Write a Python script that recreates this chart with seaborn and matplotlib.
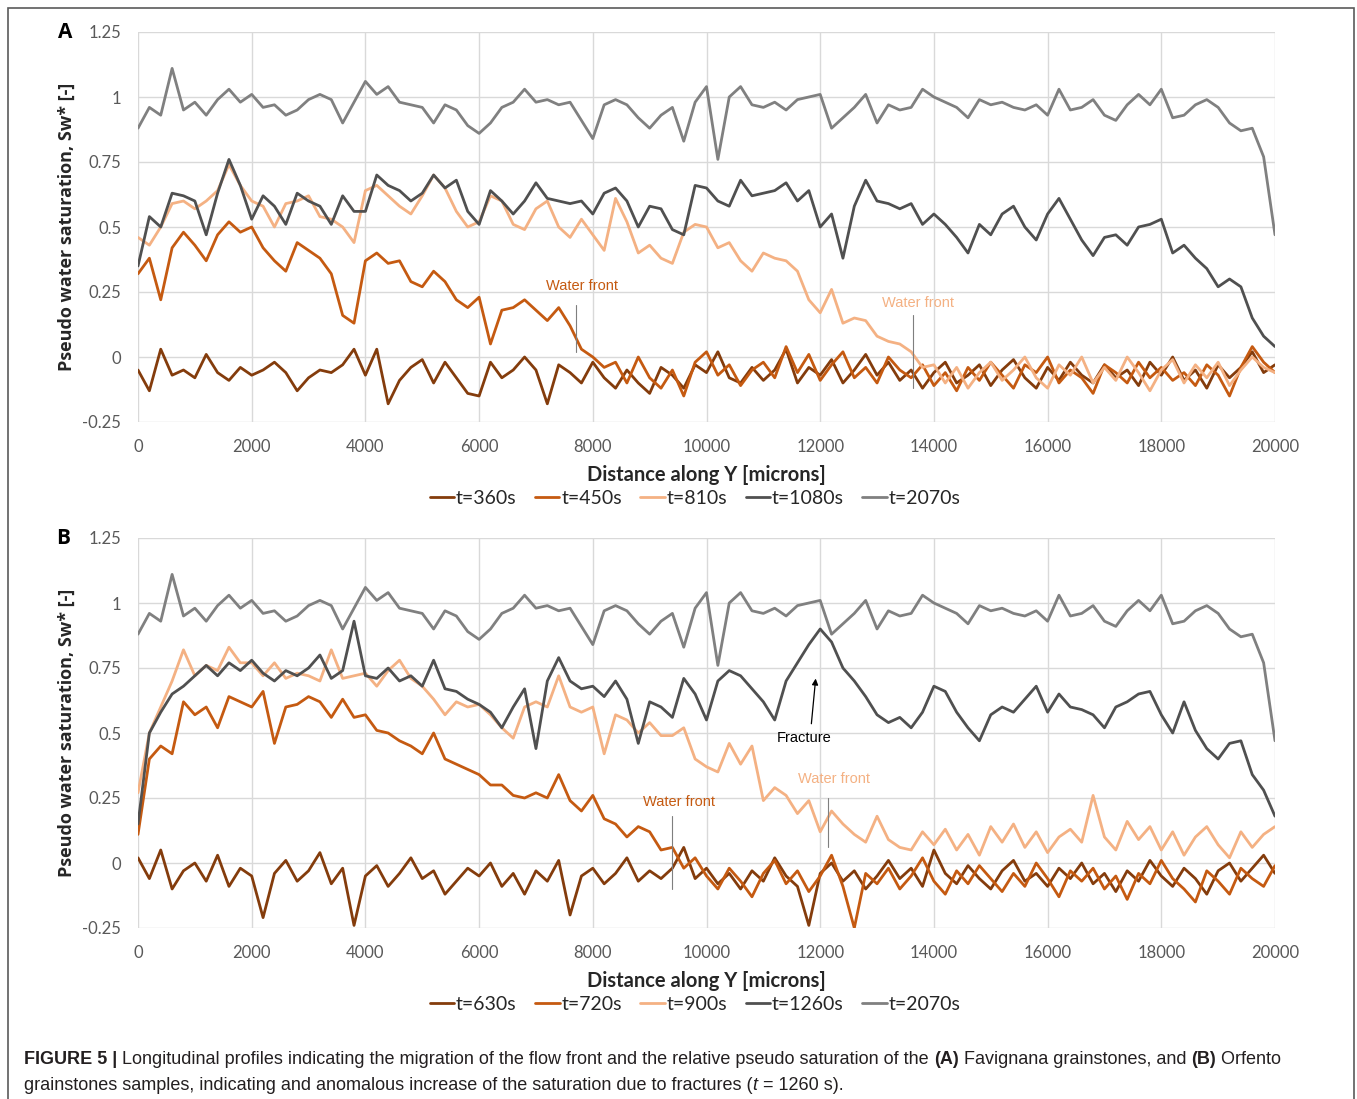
import matplotlib
matplotlib.use("Agg")
import matplotlib.pyplot as plt
import numpy as np
import pandas as pd
import seaborn as sns
from matplotlib.lines import Line2D
from matplotlib.patches import Rectangle

# ---------------- data ----------------
distance = list(range(0, 20001, 200))   # microns, sampling grid of the profiles

x_ticks = [0, 2000, 4000, 6000, 8000, 10000, 12000, 14000, 16000, 18000, 20000]
y_ticks = [-0.25, 0, 0.25, 0.5, 0.75, 1, 1.25]
y_tick_labels = ["-0.25", "0", "0.25", "0.5", "0.75", "1", "1.25"]

labels_a = ["t=360s", "t=450s", "t=810s", "t=1080s", "t=2070s"]
labels_b = ["t=630s", "t=720s", "t=900s", "t=1260s", "t=2070s"]

# shared final profile (t=2070s) in both panels
sw_2070 = [0.88, 0.96, 0.93, 1.11, 0.95, 0.98, 0.93, 0.99, 1.03, 0.98,
           1.01, 0.96, 0.97, 0.93, 0.95, 0.99, 1.01, 0.99, 0.90, 0.98,
           1.06, 1.01, 1.04, 0.98, 0.97, 0.96, 0.90, 0.97, 0.95, 0.89,
           0.86, 0.90, 0.96, 0.98, 1.03, 0.98, 0.99, 0.97, 0.98, 0.91,
           0.84, 0.97, 0.99, 0.97, 0.92, 0.88, 0.93, 0.96, 0.83, 0.98,
           1.04, 0.76, 1.00, 1.04, 0.97, 0.96, 0.98, 0.95, 0.99, 1.00,
           1.01, 0.88, 0.92, 0.96, 1.01, 0.90, 0.97, 0.95, 0.96, 1.03,
           1.00, 0.98, 0.96, 0.92, 0.99, 0.97, 0.98, 0.96, 0.95, 0.97,
           0.93, 1.03, 0.95, 0.96, 0.99, 0.93, 0.91, 0.97, 1.01, 0.97,
           1.03, 0.92, 0.93, 0.97, 0.99, 0.96, 0.90, 0.87, 0.88, 0.77,
           0.47]

# Panel A (Favignana)
sw_a_360 = [-0.05, -0.13, 0.03, -0.07, -0.05, -0.08, 0.01, -0.06, -0.09, -0.04,
            -0.07, -0.05, -0.02, -0.06, -0.13, -0.08, -0.05, -0.06, -0.03, 0.03,
            -0.07, 0.03, -0.18, -0.09, -0.04, -0.01, -0.10, -0.02, -0.08, -0.14,
            -0.15, -0.02, -0.08, -0.05, 0.00, -0.05, -0.18, -0.03, -0.06, -0.10,
            -0.02, -0.08, -0.12, -0.05, -0.10, -0.14, -0.04, -0.07, -0.12, -0.03,
            -0.06, 0.02, -0.08, -0.10, -0.04, -0.09, -0.05, 0.03, -0.10, -0.04,
            -0.07, -0.01, -0.10, -0.05, 0.01, -0.07, -0.02, -0.09, -0.05, -0.12,
            -0.06, -0.02, -0.10, -0.07, -0.03, -0.11, -0.05, -0.01, -0.08, -0.12,
            -0.04, -0.09, -0.02, -0.07, -0.10, -0.03, -0.08, -0.05, -0.11, -0.02,
            -0.07, 0.00, -0.09, -0.05, -0.12, -0.03, -0.08, -0.04, 0.02, -0.06,
            -0.03]
sw_a_450 = [0.32, 0.38, 0.22, 0.42, 0.48, 0.43, 0.37, 0.47, 0.52, 0.48,
            0.50, 0.42, 0.37, 0.33, 0.44, 0.41, 0.38, 0.32, 0.16, 0.13,
            0.37, 0.40, 0.36, 0.37, 0.29, 0.27, 0.33, 0.29, 0.22, 0.19,
            0.23, 0.05, 0.18, 0.19, 0.22, 0.18, 0.14, 0.19, 0.12, 0.03,
            0.00, -0.04, -0.02, -0.10, 0.00, -0.08, -0.12, -0.05, -0.15, -0.02,
            0.02, -0.07, -0.03, -0.11, -0.05, -0.02, -0.08, 0.04, -0.06, 0.01,
            -0.09, -0.03, 0.02, -0.08, -0.04, -0.10, 0.00, -0.05, -0.08, -0.03,
            -0.11, -0.06, -0.13, -0.04, -0.09, -0.02, -0.07, -0.12, -0.03, -0.06,
            0.00, -0.10, -0.05, -0.08, -0.14, -0.03, -0.06, -0.10, -0.02, -0.08,
            -0.04, -0.09, -0.06, -0.11, -0.03, -0.07, -0.15, -0.04, 0.04, -0.02,
            -0.06]
sw_a_810 = [0.46, 0.43, 0.50, 0.59, 0.60, 0.57, 0.60, 0.64, 0.74, 0.66,
            0.60, 0.58, 0.50, 0.59, 0.60, 0.62, 0.54, 0.53, 0.50, 0.44,
            0.64, 0.66, 0.62, 0.58, 0.55, 0.62, 0.70, 0.65, 0.56, 0.50,
            0.52, 0.62, 0.60, 0.51, 0.49, 0.57, 0.60, 0.50, 0.46, 0.53,
            0.47, 0.41, 0.61, 0.52, 0.40, 0.43, 0.38, 0.36, 0.48, 0.51,
            0.50, 0.42, 0.44, 0.37, 0.33, 0.40, 0.38, 0.37, 0.33, 0.22,
            0.17, 0.26, 0.13, 0.15, 0.14, 0.08, 0.06, 0.05, 0.02, -0.04,
            -0.03, -0.10, -0.04, -0.12, -0.06, -0.02, -0.09, -0.05, 0.00, -0.08,
            -0.12, -0.03, -0.07, 0.00, -0.10, -0.04, -0.09, 0.00, -0.06, -0.13,
            -0.05, -0.01, -0.10, -0.03, -0.08, -0.02, -0.11, -0.05, 0.00, -0.04,
            -0.06]
sw_a_1080 = [0.35, 0.54, 0.50, 0.63, 0.62, 0.60, 0.47, 0.63, 0.76, 0.66,
             0.53, 0.62, 0.58, 0.51, 0.63, 0.60, 0.58, 0.51, 0.62, 0.56,
             0.56, 0.70, 0.66, 0.64, 0.60, 0.63, 0.70, 0.65, 0.68, 0.56,
             0.51, 0.64, 0.60, 0.55, 0.60, 0.67, 0.61, 0.60, 0.59, 0.60,
             0.55, 0.63, 0.65, 0.60, 0.50, 0.58, 0.57, 0.49, 0.47, 0.66,
             0.65, 0.60, 0.58, 0.68, 0.62, 0.63, 0.64, 0.67, 0.60, 0.64,
             0.50, 0.55, 0.38, 0.58, 0.68, 0.60, 0.59, 0.57, 0.59, 0.51,
             0.55, 0.51, 0.46, 0.40, 0.51, 0.47, 0.55, 0.58, 0.50, 0.45,
             0.55, 0.61, 0.53, 0.45, 0.39, 0.46, 0.47, 0.43, 0.50, 0.51,
             0.53, 0.40, 0.43, 0.38, 0.34, 0.27, 0.30, 0.27, 0.15, 0.08,
             0.04]

# Panel B (Orfento)
sw_b_630 = [0.02, -0.06, 0.05, -0.10, -0.03, 0.00, -0.07, 0.03, -0.09, -0.02,
            -0.05, -0.21, -0.04, 0.01, -0.07, -0.03, 0.04, -0.08, -0.02, -0.24,
            -0.05, -0.01, -0.09, -0.04, 0.02, -0.06, -0.03, -0.12, -0.07, -0.02,
            -0.05, 0.00, -0.09, -0.04, -0.12, -0.03, -0.07, 0.01, -0.20, -0.05,
            -0.02, -0.08, -0.04, 0.02, -0.07, -0.03, -0.06, -0.02, 0.06, -0.06,
            -0.02, -0.08, -0.04, -0.10, -0.03, -0.07, 0.02, -0.05, -0.09, -0.24,
            -0.04, 0.00, -0.07, -0.03, -0.10, -0.05, 0.01, -0.06, -0.02, -0.09,
            0.05, -0.04, -0.08, -0.01, -0.06, -0.10, -0.03, 0.01, -0.07, -0.04,
            -0.09, -0.02, -0.06, 0.00, -0.08, -0.04, -0.11, -0.03, -0.07, 0.01,
            -0.05, -0.09, -0.02, -0.06, -0.12, -0.03, 0.00, -0.07, -0.02, 0.03,
            -0.04]
sw_b_720 = [0.11, 0.40, 0.45, 0.42, 0.62, 0.57, 0.60, 0.52, 0.64, 0.62,
            0.60, 0.66, 0.46, 0.60, 0.61, 0.64, 0.62, 0.56, 0.63, 0.56,
            0.57, 0.51, 0.50, 0.47, 0.45, 0.42, 0.50, 0.40, 0.38, 0.36,
            0.34, 0.30, 0.30, 0.26, 0.25, 0.27, 0.25, 0.34, 0.24, 0.20,
            0.26, 0.17, 0.15, 0.10, 0.14, 0.12, 0.05, 0.06, -0.02, 0.02,
            -0.05, -0.10, -0.02, -0.07, -0.13, -0.04, 0.01, -0.08, -0.03, -0.11,
            -0.05, 0.03, -0.09, -0.25, -0.04, -0.08, -0.02, -0.10, -0.05, 0.02,
            -0.07, -0.12, -0.03, -0.08, -0.01, -0.06, -0.11, -0.04, -0.09, 0.00,
            -0.06, -0.13, -0.03, -0.07, -0.02, -0.10, -0.05, -0.14, -0.04, -0.08,
            0.01, -0.06, -0.10, -0.15, -0.03, -0.07, -0.12, -0.02, -0.06, -0.09,
            -0.01]
sw_b_900 = [0.27, 0.50, 0.60, 0.70, 0.82, 0.72, 0.76, 0.74, 0.83, 0.77,
            0.77, 0.72, 0.77, 0.71, 0.73, 0.72, 0.70, 0.82, 0.71, 0.72,
            0.73, 0.68, 0.74, 0.78, 0.71, 0.68, 0.63, 0.57, 0.62, 0.60,
            0.61, 0.57, 0.52, 0.48, 0.60, 0.62, 0.60, 0.72, 0.60, 0.58,
            0.60, 0.42, 0.57, 0.55, 0.50, 0.54, 0.49, 0.49, 0.52, 0.40,
            0.37, 0.35, 0.46, 0.38, 0.45, 0.24, 0.29, 0.26, 0.19, 0.24,
            0.12, 0.20, 0.15, 0.11, 0.08, 0.18, 0.09, 0.06, 0.05, 0.12,
            0.07, 0.13, 0.05, 0.11, 0.03, 0.14, 0.08, 0.15, 0.06, 0.12,
            0.04, 0.10, 0.13, 0.08, 0.26, 0.10, 0.05, 0.16, 0.09, 0.14,
            0.05, 0.12, 0.03, 0.10, 0.14, 0.07, 0.02, 0.12, 0.06, 0.11,
            0.14]
sw_b_1260 = [0.15, 0.50, 0.58, 0.65, 0.68, 0.72, 0.76, 0.72, 0.77, 0.74,
             0.78, 0.73, 0.70, 0.74, 0.72, 0.75, 0.80, 0.71, 0.74, 0.93,
             0.72, 0.71, 0.75, 0.70, 0.72, 0.68, 0.78, 0.67, 0.66, 0.63,
             0.61, 0.58, 0.52, 0.60, 0.67, 0.44, 0.70, 0.79, 0.70, 0.67,
             0.68, 0.64, 0.70, 0.63, 0.46, 0.62, 0.60, 0.56, 0.71, 0.65,
             0.55, 0.70, 0.74, 0.72, 0.67, 0.62, 0.55, 0.70, 0.77, 0.84,
             0.90, 0.85, 0.75, 0.70, 0.64, 0.57, 0.54, 0.56, 0.52, 0.58,
             0.68, 0.66, 0.58, 0.52, 0.47, 0.57, 0.60, 0.58, 0.63, 0.68,
             0.58, 0.65, 0.60, 0.59, 0.57, 0.52, 0.60, 0.62, 0.65, 0.66,
             0.57, 0.50, 0.62, 0.51, 0.44, 0.40, 0.46, 0.47, 0.34, 0.28,
             0.18]

series_a = [sw_a_360, sw_a_450, sw_a_810, sw_a_1080, sw_2070]
series_b = [sw_b_630, sw_b_720, sw_b_900, sw_b_1260, sw_2070]

# annotations: (x position, y bottom, y top) of water-front markers
front_a = [(7700, 0.02, 0.20), (13630, -0.12, 0.16)]
front_a_text = [(7810, 0.273), (13720, 0.208)]
front_b = [(9390, -0.10, 0.18), (12140, 0.06, 0.25)]
front_b_text = [(9516, 0.235), (12243, 0.323)]
fracture_tip = (11925, 0.72)
fracture_tail = (11840, 0.525)
fracture_text = (11715, 0.48)

# ---------------- style ----------------
colors = ["#843C0C", "#C55A11", "#F4B183", "#505050", "#808080"]
front_colors = ["#C55A11", "#F4B183"]

sns.set_theme(style="white")
plt.rcParams['font.family'] = ['Lato', 'DejaVu Sans']

W, H = 1357, 1099
fig = plt.figure(figsize=(W / 100, H / 100), dpi=100)
axA = fig.add_axes([138 / W, 1 - 422 / H, 1137 / W, 390 / H])
axB = fig.add_axes([138 / W, 1 - 928 / H, 1137 / W, 390 / H])


def draw_panel(ax, series, labels):
    for vals, lab, col in zip(series, labels, colors):
        df = pd.DataFrame({"Distance": distance, "Sw": vals})
        sns.lineplot(data=df, x="Distance", y="Sw", ax=ax, color=col,
                     linewidth=2.0, errorbar=None, legend=False)
    ax.set_xlim(0, 20000)
    ax.set_ylim(-0.25, 1.25)
    ax.set_xticks(x_ticks)
    ax.set_xticklabels([str(t) for t in x_ticks])
    ax.set_yticks(y_ticks)
    ax.set_yticklabels(y_tick_labels)
    ax.tick_params(length=0, pad=12, labelsize=12, labelcolor="#595959")
    ax.grid(True, color="#D9D9D9", linewidth=1)
    ax.set_axisbelow(True)
    for s in ax.spines.values():
        s.set_visible(False)
    ax.set_xlabel("")
    ax.set_ylabel("")
    ax.text(0.5, -0.136, "Distance along Y [microns]", transform=ax.transAxes,
            ha="center", va="center", fontsize=14.5, fontweight="bold", color="#262626")
    ax.text(-0.0625, 0.5, "Pseudo water saturation, Sw* [-]", transform=ax.transAxes,
            rotation=90, ha="center", va="center", fontsize=13, fontweight="bold",
            color="#262626", family=["Open Sans", "DejaVu Sans"])
    handles = [Line2D([0], [0], color=c, lw=2) for c in colors]
    ax.legend(handles, labels, loc="center", bbox_to_anchor=(0.49, -0.195), ncol=5,
              frameon=False, fontsize=14, handlelength=1.25, handletextpad=0.1,
              columnspacing=0.95, borderaxespad=0)
    for t in ax.get_legend().get_texts():
        t.set_color("#262626")


draw_panel(axA, series_a, labels_a)
draw_panel(axB, series_b, labels_b)

ann_font = ["Liberation Sans", "DejaVu Sans"]
for ax, fronts, texts in [(axA, front_a, front_a_text), (axB, front_b, front_b_text)]:
    for (fx, y0, y1), (tx, ty), c in zip(fronts, texts, front_colors):
        ax.plot([fx, fx], [y0, y1], color="#7F7F7F", lw=0.8, zorder=5)
        ax.text(tx, ty, "Water front", color=c, fontsize=10.5, ha="center", va="center",
                family=ann_font, zorder=6)

axB.annotate("", xy=fracture_tip, xytext=fracture_tail,
             arrowprops=dict(arrowstyle="-|>", color="black", lw=0.9, mutation_scale=9),
             zorder=6)
axB.text(fracture_text[0], fracture_text[1], "Fracture", color="black", fontsize=10.5,
         ha="center", va="center", family=ann_font, zorder=6)

fig.text(65 / W, 1 - 33 / H, "A", fontsize=15, fontweight="bold", ha="center", va="center",
         color="black", family=["Open Sans", "DejaVu Sans"])
fig.text(63 / W, 1 - 538 / H, "B", fontsize=15, fontweight="bold", ha="center", va="center",
         color="black", family=["Open Sans", "DejaVu Sans"])

# outer frame
fig.patches.append(Rectangle((8 / W, -0.05), (1354 - 8) / W, 1 - 8 / H + 0.05,
                             transform=fig.transFigure, fill=False,
                             edgecolor="#5A5A5A", lw=1.2))

# caption with mixed styles
cap_font = ["Liberation Sans Narrow", "Liberation Sans", "DejaVu Sans"]
line1 = [("FIGURE 5 |", "bold"), (" Longitudinal profiles indicating the migration of the flow front and the relative pseudo saturation of the ", "normal"),
         ("(A)", "bold"), (" Favignana grainstones, and ", "normal"), ("(B)", "bold"), (" Orfento", "normal")]
line2 = [("grainstones samples, indicating and anomalous increase of the saturation due to fractures (", "normal"),
         ("t", "italic"), (" = 1260 s).", "normal")]

renderer = fig.canvas.get_renderer()


def rich_line(pieces, x_px, y_px, size):
    x = x_px
    arts = []
    for txt, sty in pieces:
        t = fig.text(x / W, 1 - y_px / H, txt, fontsize=size, ha="left", va="center",
                     family=cap_font, color="#231F20",
                     fontweight="bold" if sty == "bold" else "normal",
                     fontstyle="italic" if sty == "italic" else "normal")
        bb = t.get_window_extent(renderer=renderer)
        x += bb.width
        arts.append(t)
    return arts, x - x_px


arts, width = rich_line(line1, 24, 1060, 12)
for a in arts:
    a.remove()
size = 12 * 1259 / width
rich_line(line1, 24, 1060, size)
rich_line(line2, 24, 1085, size)

fig.savefig("out.png", dpi=100)
